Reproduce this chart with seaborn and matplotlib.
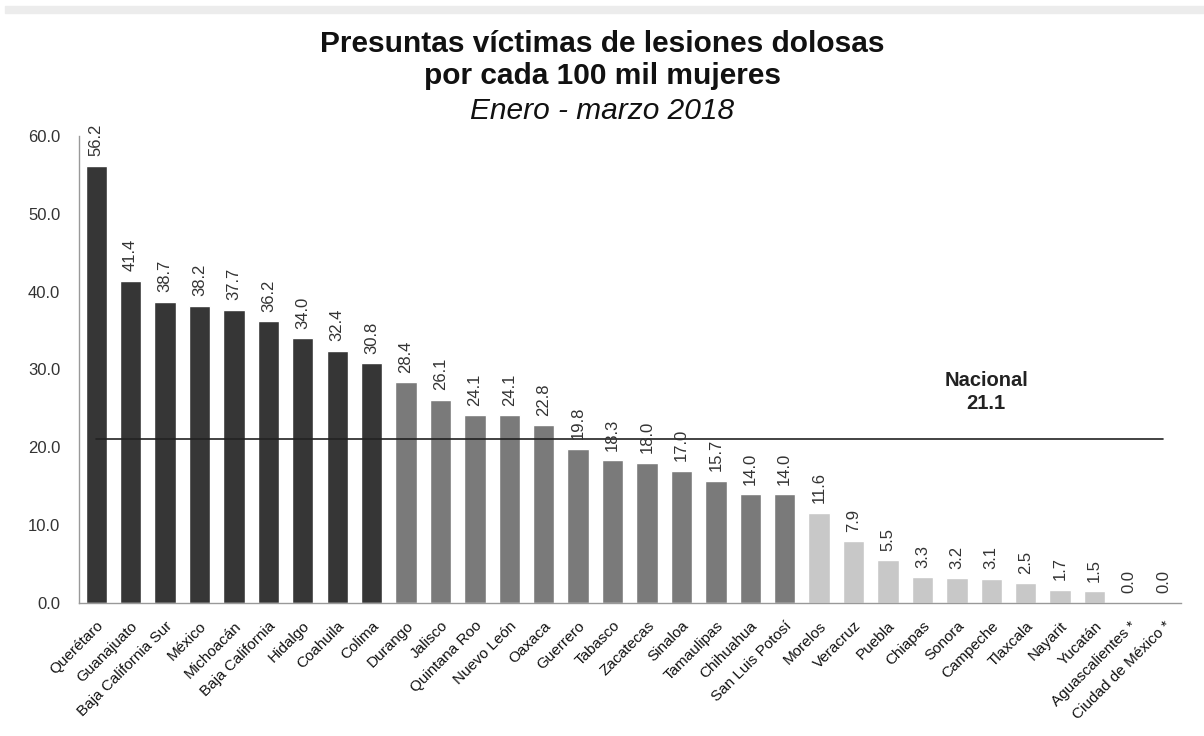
import pandas as pd
import numpy as np
import matplotlib.pyplot as plt
import seaborn as sns
from matplotlib.patches import Rectangle

# Data
estados = ['Querétaro', 'Guanajuato', 'Baja California Sur', 'México', 'Michoacán',
           'Baja California', 'Hidalgo', 'Coahuila', 'Colima', 'Durango', 'Jalisco',
           'Quintana Roo', 'Nuevo León', 'Oaxaca', 'Guerrero', 'Tabasco', 'Zacatecas',
           'Sinaloa', 'Tamaulipas', 'Chihuahua', 'San Luis Potosí', 'Morelos', 'Veracruz',
           'Puebla', 'Chiapas', 'Sonora', 'Campeche', 'Tlaxcala', 'Nayarit', 'Yucatán',
           'Aguascalientes *', 'Ciudad de México *']
tasas = [56.2, 41.4, 38.7, 38.2, 37.7, 36.2, 34.0, 32.4, 30.8, 28.4, 26.1,
         24.1, 24.1, 22.8, 19.8, 18.3, 18.0, 17.0, 15.7, 14.0, 14.0, 11.6, 7.9,
         5.5, 3.3, 3.2, 3.1, 2.5, 1.7, 1.5, 0.0, 0.0]
grupos = ['alto'] * 9 + ['medio'] * 12 + ['bajo'] * 11
nacional = 21.1

colores = {'alto': '#363636', 'medio': '#7a7a7a', 'bajo': '#c8c8c8'}

df = pd.DataFrame({'estado': estados, 'tasa': tasas, 'grupo': grupos})

sns.set_style('white')
plt.rcParams['font.family'] = ['Liberation Sans', 'DejaVu Sans']

fig = plt.figure(figsize=(12.04, 7.36), dpi=100)
ax = fig.add_axes([0.0656, 0.181, 0.915, 0.634])

sns.barplot(data=df, x='estado', y='tasa', hue='grupo', palette=colores,
            dodge=False, width=0.62, legend=False, ax=ax)

# value labels above each bar
for i, v in enumerate(tasas):
    ax.text(i, v + 1.2, f'{v:.1f}', rotation=90, ha='center', va='bottom',
            fontsize=12, color='#333333')

# national reference line
ax.plot([0, len(estados) - 1], [nacional, nacional], color='#222222', lw=1.2)
ax.text(25.85, 27.1, f'Nacional\n{nacional}', ha='center', va='center',
        fontsize=14.5, fontweight='bold', color='#222222', linespacing=1.25)

ax.set_xlim(-0.5, len(estados) - 0.5)
ax.set_ylim(0, 60)
ax.set_yticks(np.arange(0, 61, 10))
ax.set_yticklabels([f'{t:.1f}' for t in np.arange(0, 61, 10)], fontsize=12, color='#333333')
ax.set_xticks(range(len(estados)))
ax.set_xticklabels(estados, rotation=45, ha='right', rotation_mode='anchor',
                   fontsize=11, color='#111111')
ax.tick_params(axis='x', pad=8)
ax.tick_params(axis='y', pad=10)
ax.set_xlabel('')
ax.set_ylabel('')

for s in ['top', 'right']:
    ax.spines[s].set_visible(False)
for s in ['left', 'bottom']:
    ax.spines[s].set_color('#999999')
    ax.spines[s].set_linewidth(1)

# titles
fig.text(0.5, 0.929, 'Presuntas víctimas de lesiones dolosas', ha='center', va='baseline',
         fontsize=21.5, fontweight='bold', color='#111111')
fig.text(0.5, 0.886, 'por cada 100 mil mujeres', ha='center', va='baseline',
         fontsize=21.5, fontweight='bold', color='#111111')
fig.text(0.5, 0.838, 'Enero - marzo 2018', ha='center', va='baseline',
         fontsize=21.5, style='italic', color='#111111')

# light band at top of the image
fig.patches.append(Rectangle((0.004, 0.983), 0.996, 0.009, transform=fig.transFigure,
                             color='#ececec', zorder=0))

fig.savefig('out.png', dpi=100)
